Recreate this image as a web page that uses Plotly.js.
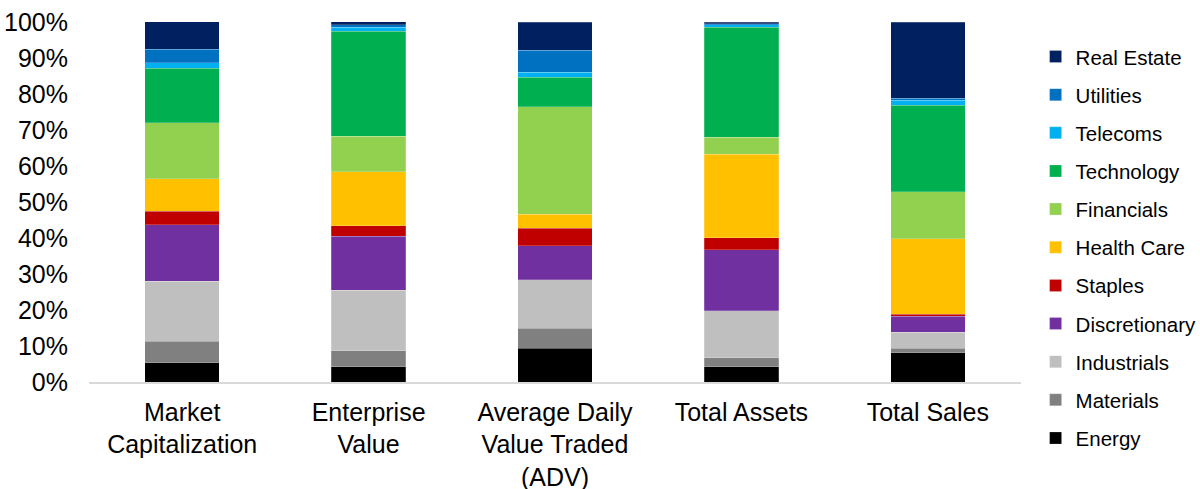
<!DOCTYPE html>
<html>
<head>
<meta charset="utf-8">
<script src="https://cdn.plot.ly/plotly-3.0.1.min.js"></script>
<style>html,body{margin:0;padding:0;background:#fff;}#chart{width:1200px;height:489px;}</style>
</head>
<body>
<div id="chart"></div>
<script>
const categories = ["Market<br>Capitalization", "Enterprise<br>Value", "Average Daily<br>Value Traded<br>(ADV)", "Total Assets", "Total Sales"];

const sectors = ["Energy", "Materials", "Industrials", "Discretionary", "Staples", "Health Care", "Financials", "Technology", "Telecoms", "Utilities", "Real Estate"];

const energy        = [5.3, 4.2, 9.4, 4.2, 8.1];
const materials     = [6.0, 4.5, 5.6, 2.5, 1.3];
const industrials   = [16.7, 16.8, 13.4, 13.1, 4.4];
const discretionary = [15.7, 15.0, 9.5, 16.9, 4.4];
const staples       = [3.7, 2.9, 4.8, 3.4, 0.6];
const healthCare    = [9.1, 15.0, 3.9, 23.1, 21.0];
const financials    = [15.5, 9.9, 29.8, 4.8, 13.1];
const technology    = [15.1, 29.1, 8.2, 30.6, 24.0];
const telecoms      = [1.6, 1.2, 1.4, 0.6, 1.3];
const utilities     = [3.7, 0.6, 6.2, 0.3, 0.6];
const realEstate    = [7.7, 0.9, 7.7, 0.5, 21.1];

const seriesValues = [energy, materials, industrials, discretionary, staples, healthCare, financials, technology, telecoms, utilities, realEstate];
const colors = ["#000000", "#808080", "#BFBFBF", "#7030A0", "#C00000", "#FFC000", "#92D050", "#00B050", "#00B0F0", "#0070C0", "#002060"];

const traces = sectors.map((name, i) => ({
  type: "bar",
  name: name,
  x: categories,
  y: seriesValues[i].map(v => v / 100),
  legendgroup: name,
  legendrank: 100 - i,
  marker: {color: colors[i], line: {color: "rgba(255,255,255,0.35)", width: 0.6}},
  hovertemplate: name + ": %{y:.1%}<extra></extra>"
}));

const layout = {
  width: 1200,
  height: 489,
  margin: {l: 89, r: 179, t: 22, b: 107, autoexpand: false},
  barmode: "stack",
  bargap: 0.6,
  paper_bgcolor: "#ffffff",
  plot_bgcolor: "#ffffff",
  font: {family: "Liberation Sans, Arial, sans-serif", color: "#000000", size: 25},
  showlegend: true,
  legend: {
    xref: "container", yref: "container",
    x: 0.863, xanchor: "left",
    y: 0.925, yanchor: "top",
    traceorder: "grouped",
    tracegroupgap: 8.5,
    font: {size: 20.5, color: "#000000"},
    itemwidth: 30,
    maxheight: 480,
    bgcolor: "rgba(0,0,0,0)"
  },
  xaxis: {
    type: "category",
    showline: true,
    linecolor: "#D9D9D9",
    linewidth: 1.5,
    ticks: "",
    showgrid: false,
    tickfont: {size: 25},
    ticklabelstandoff: 7
  },
  yaxis: {
    range: [0, 1],
    tickvals: [0, 0.1, 0.2, 0.3, 0.4, 0.5, 0.6, 0.7, 0.8, 0.9, 1.0],
    tickformat: ".0%",
    showgrid: false,
    zeroline: false,
    showline: false,
    ticks: "",
    tickfont: {size: 25},
    ticklabelstandoff: 20
  }
};

Plotly.newPlot("chart", traces, layout, {displayModeBar: false, staticPlot: true});
</script>
</body>
</html>
